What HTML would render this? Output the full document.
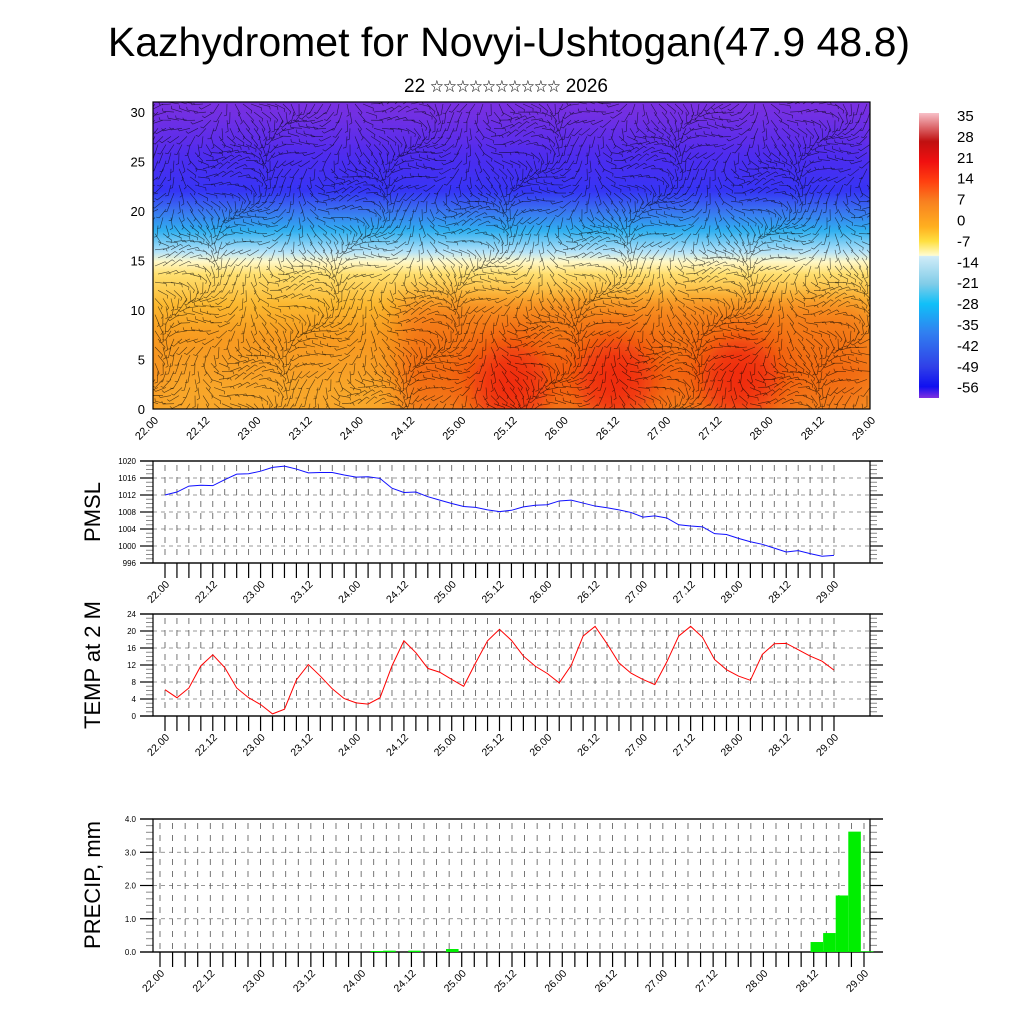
<!DOCTYPE html>
<html><head><meta charset="utf-8"><style>
html,body{margin:0;padding:0;background:#fff;}
svg{display:block;font-family:"Liberation Sans","Noto Sans CJK SC",sans-serif;}
</style></head><body>
<svg id="s" width="1024" height="1024" viewBox="0 0 1024 1024" xmlns="http://www.w3.org/2000/svg">
<defs>
<linearGradient id="tg" x1="0" y1="0" x2="0" y2="1">
<stop offset="0" stop-color="#7a30e0"/><stop offset="0.13" stop-color="#6a30e8"/>
<stop offset="0.19" stop-color="#5030f0"/><stop offset="0.29" stop-color="#3535f5"/>
<stop offset="0.35" stop-color="#3a70f0"/><stop offset="0.42" stop-color="#30b0f0"/>
<stop offset="0.49" stop-color="#b8e4f8"/><stop offset="0.52" stop-color="#fff8c8"/>
<stop offset="0.56" stop-color="#ffe070"/><stop offset="0.66" stop-color="#fbb830"/>
<stop offset="0.76" stop-color="#f79a20"/><stop offset="0.88" stop-color="#f48018"/>
<stop offset="1" stop-color="#f8a028"/>
</linearGradient>
<linearGradient id="cg" x1="0" y1="0" x2="0" y2="1">
<stop offset="0" stop-color="#f8c0c8"/><stop offset="0.1" stop-color="#c01010"/>
<stop offset="0.17" stop-color="#f01010"/><stop offset="0.24" stop-color="#ff4010"/>
<stop offset="0.31" stop-color="#f88020"/><stop offset="0.40" stop-color="#ffb020"/>
<stop offset="0.45" stop-color="#ffe040"/><stop offset="0.5" stop-color="#fffcd0"/>
<stop offset="0.503" stop-color="#d0ecf8"/><stop offset="0.6" stop-color="#80cce8"/>
<stop offset="0.67" stop-color="#10c0f8"/><stop offset="0.77" stop-color="#3080f0"/>
<stop offset="0.89" stop-color="#3040e8"/><stop offset="0.96" stop-color="#1010f0"/>
<stop offset="1" stop-color="#8030e0"/>
</linearGradient>
<filter id="bl" x="-50%" y="-50%" width="200%" height="200%"><feGaussianBlur stdDeviation="14"/></filter>
<clipPath id="tc"><rect x="153" y="102" width="717" height="307"/></clipPath>
</defs>
<text x="509" y="56" font-size="41" text-anchor="middle">Kazhydromet for Novyi-Ushtogan(47.9 48.8)</text>
<text x="506" y="92" font-size="19" text-anchor="middle">22 <tspan font-size="13" dy="-1">☆☆☆☆☆☆☆☆☆☆</tspan><tspan dy="1"> 2026</tspan></text>
<g id="topPanel"></g>
<g id="cbar"></g>
<g id="pmsl"></g>
<g id="temp"></g>
<g id="prec"></g>
</svg>
<script>
const timeLabels=["22.00","22.12","23.00","23.12","24.00","24.12","25.00","25.12","26.00","26.12","27.00","27.12","28.00","28.12","29.00"];
const heightTicks=[0,5,10,15,20,25,30];
const cbarLabels=["35","28","21","14","7","0","-7","-14","-21","-28","-35","-42","-49","-56"];
const pmslValues=[1012.0,1012.7,1014.1,1014.3,1014.2,1015.6,1016.9,1017.0,1017.6,1018.5,1018.8,1018.1,1017.2,1017.3,1017.3,1016.7,1016.2,1016.3,1015.9,1013.6,1012.6,1012.7,1011.6,1010.8,1010.0,1009.3,1009.1,1008.5,1008.1,1008.4,1009.2,1009.6,1009.7,1010.6,1010.8,1010.1,1009.4,1009.0,1008.5,1007.9,1006.8,1007.1,1006.6,1005.0,1004.7,1004.5,1002.9,1002.7,1001.8,1001.0,1000.4,999.5,998.6,998.9,998.2,997.6,997.8];
const pmslTicks=[996,1000,1004,1008,1012,1016,1020];
const tempValues=[6.2,4.3,6.6,11.8,14.4,11.4,6.6,4.3,2.7,0.5,1.6,8.5,12.1,9.4,6.4,4.1,3.1,2.8,4.3,11.8,17.7,14.9,11.2,10.3,8.6,7.0,12.5,17.7,20.4,17.8,14.1,11.7,10.0,7.8,11.9,18.8,21.1,17.0,12.5,10.1,8.6,7.4,12.7,18.8,21.1,18.5,13.3,10.9,9.4,8.4,14.5,17.0,17.1,15.6,14.1,12.9,10.8];
const tempTicks=[0,4,8,12,16,20,24];
const precipValues=[0,0,0,0,0,0,0,0,0,0,0,0,0,0,0,0,0,0.03,0.04,0,0.04,0,0,0.09,0,0,0,0,0,0,0,0,0,0,0,0,0,0,0,0,0,0,0,0,0,0,0,0,0,0,0,0,0.3,0.57,1.7,3.62,0.02];
const precipTicks=[0,1,2,3,4];
const precipTickLabels=["0.0","1.0","2.0","3.0","4.0"];

const NS="http://www.w3.org/2000/svg";
function mk(p,t,a){const e=document.createElementNS(NS,t);for(const k in a)e.setAttribute(k,a[k]);p.appendChild(e);return e;}

// ---------- top panel ----------
const topG=document.getElementById('topPanel');
const xTop=i=>153+i*717/56;
const yKm=k=>409-k*9.9;
const tg=mk(topG,'g',{'clip-path':'url(#tc)'});
mk(tg,'rect',{x:153,y:102,width:717,height:307,fill:'url(#tg)'});
mk(tg,'rect',{x:400,y:300,width:470,height:120,fill:'#f05810',opacity:0.55,filter:'url(#bl)'});
mk(tg,'rect',{x:153,y:350,width:240,height:60,fill:'#fbb830',opacity:0.6,filter:'url(#bl)'});
[[510,385],[615,380],[740,378]].forEach(p=>mk(tg,'ellipse',{cx:p[0],cy:p[1],rx:38,ry:40,fill:'#f02008',opacity:0.85,filter:'url(#bl)'}));
mk(tg,'rect',{x:153,y:130,width:717,height:40,fill:'#3a25f0',opacity:0.35,filter:'url(#bl)'});
let d='';
for(let gx=0;gx<90;gx++)for(let gy=0;gy<38;gy++){
 const x=155+gx*8+((gy%2)*3),y=104+gy*8.1;
 const a=Math.sin(gx*0.37+gy*0.21)*1.3+Math.cos(gx*0.11-gy*0.5)*0.8+1.4;
 const L=11;d+=`M${x.toFixed(1)} ${y.toFixed(1)}l${(Math.cos(a)*L).toFixed(1)} ${(Math.sin(a)*L).toFixed(1)}l${(Math.cos(a+1.2)*3).toFixed(1)} ${(Math.sin(a+1.2)*3).toFixed(1)}`;
}
mk(tg,'path',{d:d,stroke:'#000',fill:'none','stroke-width':0.6,opacity:0.65});
mk(topG,'rect',{x:153,y:102,width:717,height:307,fill:'none',stroke:'#000','stroke-width':1.2});
heightTicks.forEach(k=>{
 const t=mk(topG,'text',{x:145,y:yKm(k)+5,'font-size':13,'text-anchor':'end'});t.textContent=k;
 
 
});
timeLabels.forEach((s,j)=>{
 const x=xTop(j*4);
 const t=mk(topG,'text',{x:0,y:0,'font-size':11,'text-anchor':'end',transform:`translate(${x+6},${421}) rotate(-45)`});t.textContent=s;
 
 
});

// ---------- colorbar ----------
const cb=document.getElementById('cbar');
mk(cb,'rect',{x:919,y:113,width:20,height:285,fill:'url(#cg)'});
cbarLabels.forEach((s,i)=>{
 const t=mk(cb,'text',{x:957,y:121+i*20.9,'font-size':15});t.textContent=s;
 
 
});

// ---------- generic line panel ----------
function panel(g,o){
 const {y0,y1,vmin,vmax,ticks,labels,minor,xf,n,title,ty}=o;
 const yv=v=>y1-(v-vmin)/(vmax-vmin)*(y1-y0);
 for(let v=vmin;v<=vmax+1e-9;v+=minor){
  mk(g,'line',{x1:146,x2:153,y1:yv(v),y2:yv(v),stroke:'#888','stroke-width':1});
  mk(g,'line',{x1:870,x2:877,y1:yv(v),y2:yv(v),stroke:'#888','stroke-width':1});
 }
 ticks.forEach((v,i)=>{
  const y=yv(v);
  mk(g,'line',{x1:140,x2:153,y1:y,y2:y,stroke:'#000','stroke-width':1.2});
  mk(g,'line',{x1:870,x2:883,y1:y,y2:y,stroke:'#000','stroke-width':1.2});
  if(i>0&&i<ticks.length-1)mk(g,'line',{x1:153,x2:870,y1:y,y2:y,stroke:'#777','stroke-width':0.8,'stroke-dasharray':'4 4'});
  const t=mk(g,'text',{x:136,y:y+3,'font-size':8,'text-anchor':'end'});t.textContent=labels[i];
  
  
 });
 for(let i=0;i<n;i++){
  const x=xf(i);
  mk(g,'line',{x1:x,x2:x,y1:y0+4,y2:y1-2,stroke:'#555','stroke-width':0.8,'stroke-dasharray':'6 6'});
  mk(g,'line',{x1:x,x2:x,y1:y1,y2:y1+15,stroke:'#000','stroke-width':1.2});
 }
 mk(g,'rect',{x:153,y:y0,width:717,height:y1-y0,fill:'none',stroke:'#000','stroke-width':1.2});
 mk(g,'line',{x1:140,x2:883,y1:y0,y2:y0,stroke:'#000','stroke-width':1.2});
 mk(g,'line',{x1:140,x2:883,y1:y1,y2:y1,stroke:'#000','stroke-width':1.2});
 timeLabels.forEach((s,j)=>{
  const x=xf(j*4);
  const t=mk(g,'text',{x:0,y:0,'font-size':10.5,'text-anchor':'end',transform:`translate(${x+5},${y1+22}) rotate(-45)`});t.textContent=s;
  
  
 });
 const tt=mk(g,'text',{x:0,y:0,'font-size':22,'text-anchor':'middle',transform:`translate(100,${ty}) rotate(-90)`});tt.textContent=title;
 
 
 return yv;
}
const xB=i=>165+i*(834-165)/56;
const pg=document.getElementById('pmsl');
const yP=panel(pg,{y0:461,y1:563,vmin:996,vmax:1020,ticks:pmslTicks,labels:pmslTicks.map(String),minor:1,xf:xB,n:57,title:'PMSL',ty:512});
const pl=mk(pg,'polyline',{points:pmslValues.map((v,i)=>xB(i)+','+yP(v)).join(' '),fill:'none',stroke:'#1010ff','stroke-width':1});



const tgp=document.getElementById('temp');
const yT=panel(tgp,{y0:614,y1:716,vmin:0,vmax:24,ticks:tempTicks,labels:tempTicks.map(String),minor:1,xf:xB,n:57,title:'TEMP at 2 M',ty:665});
const tl=mk(tgp,'polyline',{points:tempValues.map((v,i)=>xB(i)+','+yT(v)).join(' '),fill:'none',stroke:'#ff0000','stroke-width':1});



const xPr=i=>160+i*(864-160)/56;
const prg=document.getElementById('prec');
const yR=panel(prg,{y0:819,y1:952,vmin:0,vmax:4,ticks:precipTicks,labels:precipTickLabels,minor:0.2,xf:xPr,n:57,title:'PRECIP, mm',ty:885});
const step=(864-160)/56;
precipValues.forEach((v,i)=>{
 if(v<=0)return;
 const x=xPr(i)-0.25*step;
 const r=mk(prg,'rect',{x:x,y:yR(v),width:step,height:952-yR(v),fill:'#00ee00'});
 
 
});
</script>
</body></html>
